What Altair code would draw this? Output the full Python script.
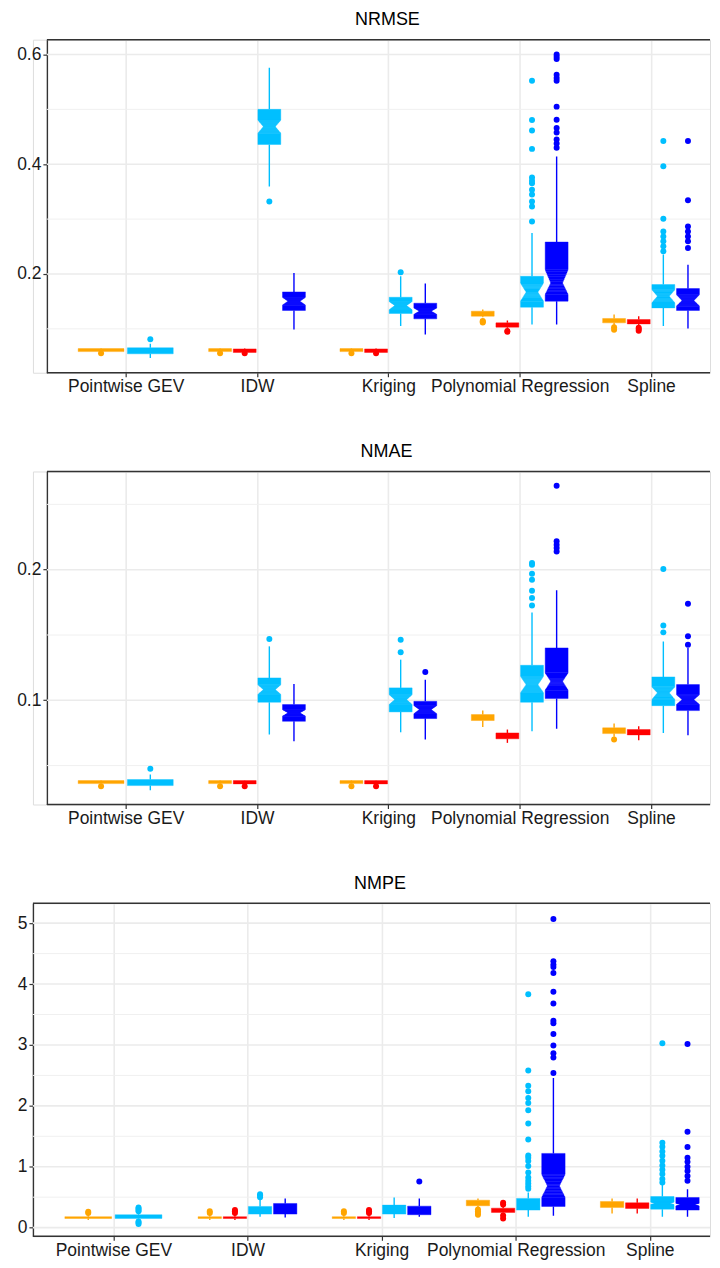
import altair as alt
import pandas as pd

CATEGORIES = ["Pointwise GEV", "IDW", "Kriging", "Polynomial Regression", "Spline"]
SERIES = ["S1", "S2", "S3", "S4"]
COLORS = ["#FFA500", "#FF0000", "#00BFFF", "#0000FF"]
PRESENT = {"Pointwise GEV": ["S1", "S3"]}

# (method, series, lower whisker, q1, median, q3, upper whisker, notch low, notch high)
NRMSE_STATS = [
    ("Pointwise GEV", "S1", 0.058, 0.0585, 0.061, 0.064, 0.065, None, None),
    ("Pointwise GEV", "S3", 0.047, 0.0545, 0.059, 0.0655, 0.073, None, None),
    ("IDW", "S1", 0.058, 0.0585, 0.061, 0.064, 0.065, None, None),
    ("IDW", "S2", 0.057, 0.057, 0.060, 0.0635, 0.064, None, None),
    ("IDW", "S3", 0.3595, 0.436, 0.4685, 0.500, 0.5758, 0.4564, 0.4807),
    ("IDW", "S4", 0.0989, 0.1335, 0.1504, 0.1673, 0.2018, 0.1431, 0.1576),
    ("Kriging", "S1", 0.058, 0.0585, 0.061, 0.064, 0.065, None, None),
    ("Kriging", "S2", 0.057, 0.057, 0.060, 0.0635, 0.064, None, None),
    ("Kriging", "S3", 0.105, 0.128, 0.1425, 0.1576, 0.1958, 0.1345, 0.150),
    ("Kriging", "S4", 0.0898, 0.1182, 0.1322, 0.1467, 0.1825, 0.1262, 0.1382),
    ("Polynomial Regression", "S1", 0.121, 0.1231, 0.128, 0.1322, 0.1353, None, None),
    ("Polynomial Regression", "S2", 0.101, 0.1031, 0.107, 0.1109, 0.1153, None, None),
    ("Polynomial Regression", "S3", 0.108, 0.1395, 0.1667, 0.1958, 0.2745, 0.1504, 0.1836),
    ("Polynomial Regression", "S4", 0.108, 0.1504, 0.1836, 0.2582, 0.414, 0.1625, 0.208),
    ("Spline", "S1", 0.107, 0.1109, 0.115, 0.1189, 0.126, None, None),
    ("Spline", "S2", 0.105, 0.109, 0.113, 0.117, 0.123, None, None),
    ("Spline", "S3", 0.105, 0.1382, 0.1595, 0.1807, 0.2353, 0.1473, 0.1716),
    ("Spline", "S4", 0.1007, 0.1335, 0.1516, 0.1734, 0.217, 0.1413, 0.1625),
]
NRMSE_OUTLIERS = [
    ("Pointwise GEV", "S1", [0.0555]),
    ("Pointwise GEV", "S3", [0.081]),
    ("IDW", "S1", [0.0555]),
    ("IDW", "S2", [0.0553]),
    ("IDW", "S3", [0.332]),
    ("Kriging", "S1", [0.0555]),
    ("Kriging", "S2", [0.0553]),
    ("Kriging", "S3", [0.203]),
    ("Polynomial Regression", "S1", [0.1145, 0.113, 0.1115]),
    ("Polynomial Regression", "S2", [0.096, 0.0945]),
    ("Polynomial Regression", "S3", [0.5522, 0.4807, 0.4613, 0.428, 0.3758, 0.370, 0.3655,
                                     0.3535, 0.345, 0.3322, 0.3231, 0.2958]),
    ("Polynomial Regression", "S4", [0.600, 0.596, 0.592, 0.563, 0.557, 0.552, 0.505, 0.481,
                                     0.466, 0.458, 0.445, 0.438, 0.430]),
    ("Spline", "S1", [0.103, 0.0985]),
    ("Spline", "S2", [0.102, 0.0995, 0.0965]),
    ("Spline", "S3", [0.4425, 0.3964, 0.3007, 0.2776, 0.2685, 0.2595, 0.2504, 0.2413]),
    ("Spline", "S4", [0.4425, 0.3345, 0.2867, 0.2776, 0.2685, 0.2595, 0.2473]),
]

NMAE_STATS = [
    ("Pointwise GEV", "S1", 0.0355, 0.0362, 0.0373, 0.0385, 0.039, None, None),
    ("Pointwise GEV", "S3", 0.0311, 0.0347, 0.037, 0.0393, 0.0431, None, None),
    ("IDW", "S1", 0.0355, 0.0362, 0.0373, 0.0385, 0.039, None, None),
    ("IDW", "S2", 0.0355, 0.036, 0.0372, 0.0385, 0.0388, None, None),
    ("IDW", "S3", 0.0738, 0.0985, 0.1082, 0.1171, 0.1413, 0.1044, 0.112),
    ("IDW", "S4", 0.0686, 0.0839, 0.0904, 0.0967, 0.1125, 0.0878, 0.0929),
    ("Kriging", "S1", 0.0355, 0.0362, 0.0373, 0.0385, 0.039, None, None),
    ("Kriging", "S2", 0.0355, 0.036, 0.0372, 0.0385, 0.0388, None, None),
    ("Kriging", "S3", 0.0755, 0.0911, 0.1005, 0.1095, 0.1311, 0.0967, 0.1044),
    ("Kriging", "S4", 0.070, 0.086, 0.0929, 0.0992, 0.1158, 0.0896, 0.096),
    ("Polynomial Regression", "S1", 0.0796, 0.0845, 0.087, 0.0891, 0.0921, None, None),
    ("Polynomial Regression", "S2", 0.0674, 0.0705, 0.0725, 0.075, 0.0776, None, None),
    ("Polynomial Regression", "S3", 0.0763, 0.0985, 0.112, 0.1268, 0.1673, 0.1057, 0.1184),
    ("Polynomial Regression", "S4", 0.0783, 0.1013, 0.1145, 0.1401, 0.1842, 0.1077, 0.121),
    ("Spline", "S1", 0.072, 0.0745, 0.077, 0.0789, 0.0822, None, None),
    ("Spline", "S2", 0.0694, 0.0735, 0.0755, 0.0776, 0.0801, None, None),
    ("Spline", "S3", 0.075, 0.0959, 0.1057, 0.1179, 0.1451, 0.1005, 0.1103),
    ("Spline", "S4", 0.0732, 0.0921, 0.1005, 0.112, 0.1401, 0.0967, 0.1044),
]
NMAE_OUTLIERS = [
    ("Pointwise GEV", "S1", [0.0342]),
    ("Pointwise GEV", "S3", [0.0475]),
    ("IDW", "S1", [0.0342]),
    ("IDW", "S2", [0.0342]),
    ("IDW", "S3", [0.147]),
    ("Kriging", "S1", [0.0342]),
    ("Kriging", "S2", [0.0342]),
    ("Kriging", "S3", [0.1464, 0.1367]),
    ("Kriging", "S4", [0.1217]),
    ("Polynomial Regression", "S3", [0.2051, 0.2038, 0.1969, 0.1923, 0.1839, 0.1783, 0.1725]),
    ("Polynomial Regression", "S4", [0.2643, 0.2217, 0.2191, 0.2166, 0.214]),
    ("Spline", "S1", [0.070]),
    ("Spline", "S3", [0.2005, 0.1572, 0.152]),
    ("Spline", "S4", [0.174, 0.149, 0.1426]),
]

NMPE_STATS = [
    ("Pointwise GEV", "S1", 0.125, 0.15, 0.165, 0.18, 0.21, None, None),
    ("Pointwise GEV", "S3", 0.12, 0.152, 0.18, 0.212, 0.25, None, None),
    ("IDW", "S1", 0.125, 0.15, 0.165, 0.18, 0.21, None, None),
    ("IDW", "S2", 0.125, 0.15, 0.165, 0.18, 0.21, None, None),
    ("IDW", "S3", 0.18, 0.222, 0.29, 0.348, 0.467, None, None),
    ("IDW", "S4", 0.168, 0.222, 0.31, 0.397, 0.479, None, None),
    ("Kriging", "S1", 0.125, 0.15, 0.165, 0.18, 0.21, None, None),
    ("Kriging", "S2", 0.125, 0.15, 0.165, 0.18, 0.21, None, None),
    ("Kriging", "S3", 0.157, 0.222, 0.29, 0.37, 0.495, None, None),
    ("Kriging", "S4", 0.18, 0.212, 0.28, 0.353, 0.479, None, None),
    ("Polynomial Regression", "S1", 0.33, 0.359, 0.41, 0.451, 0.479, None, None),
    ("Polynomial Regression", "S2", 0.23, 0.25, 0.285, 0.32, 0.34, None, None),
    ("Polynomial Regression", "S3", 0.18, 0.288, 0.38, 0.479, 0.577, None, None),
    ("Polynomial Regression", "S4", 0.196, 0.348, 0.686, 1.219, 2.456, 0.495, 0.876),
    ("Spline", "S1", 0.234, 0.332, 0.38, 0.43, 0.479, None, None),
    ("Spline", "S2", 0.234, 0.315, 0.36, 0.408, 0.479, None, None),
    ("Spline", "S3", 0.18, 0.304, 0.40, 0.511, 0.70, 0.38, 0.42),
    ("Spline", "S4", 0.18, 0.288, 0.376, 0.495, 0.63, 0.355, 0.40),
]
NMPE_OUTLIERS = [
    ("Pointwise GEV", "S1", [0.24, 0.26]),
    ("Pointwise GEV", "S3", [0.33, 0.31, 0.29, 0.27, 0.10, 0.08, 0.06]),
    ("IDW", "S1", [0.24, 0.27]),
    ("IDW", "S2", [0.24, 0.27, 0.29]),
    ("IDW", "S3", [0.50, 0.53, 0.55]),
    ("Kriging", "S1", [0.24, 0.27]),
    ("Kriging", "S2", [0.24, 0.27, 0.29]),
    ("Kriging", "S4", [0.757]),
    ("Polynomial Regression", "S1", [0.30, 0.27, 0.24, 0.21]),
    ("Polynomial Regression", "S2", [0.41, 0.38, 0.20, 0.15]),
    ("Polynomial Regression", "S3", [3.833, 2.582, 2.33, 2.239, 2.129, 2.047, 1.928, 1.709,
                                     1.448, 1.186, 1.149, 1.095, 1.013, 0.904, 0.822, 0.77,
                                     0.724, 0.68, 0.64]),
    ("Polynomial Regression", "S4", [5.07, 4.373, 4.319, 4.281, 4.183, 3.873, 3.681, 3.399,
                                     3.355, 3.18, 2.99, 2.864, 2.794, 2.538]),
    ("Spline", "S3", [3.028, 1.394, 1.33, 1.25, 1.18, 1.10, 1.02, 0.95, 0.88, 0.80, 0.74]),
    ("Spline", "S4", [3.016, 1.573, 1.323, 1.149, 1.08, 1.0, 0.93, 0.85, 0.77]),
]

FONT = "Liberation Sans"
GRID = "#EBEBEB"
FRAME = "#333333"
NOTCH_STEPS = 8
X_LEFT = 0.4          # ggplot's discrete expansion (0.6 units) on the left
X_RIGHT = 5.449       # right edge, cropped like the reference
PLOT_W = 679
PLOT_H = 334


def slot_geometry(method, series):
    present = PRESENT.get(method, SERIES)
    n = len(present)
    k = present.index(series)
    center = CATEGORIES.index(method) + 1
    slot = 0.75 / n
    xc = center - 0.375 + slot * (k + 0.5)
    half = slot * 0.93 / 2
    return xc, half


def build_frames(stats, outliers):
    rects, whisk, pts = [], [], []
    for (m, s, lw, q1, med, q3, uw, nlo, nhi) in stats:
        xc, half = slot_geometry(m, s)
        L, R = xc - half, xc + half
        if nlo is None:
            rects.append({"x": L, "x2": R, "y": q1, "y2": q3, "series": s})
        else:
            lo, hi = max(nlo, q1), min(nhi, q3)
            inset = 2 * half * 0.25
            rects.append({"x": L, "x2": R, "y": q1, "y2": lo, "series": s})
            rects.append({"x": L, "x2": R, "y": hi, "y2": q3, "series": s})
            for j in range(NOTCH_STEPS):
                f = (j + 0.5) / NOTCH_STEPS
                a = lo + (med - lo) * j / NOTCH_STEPS
                b = lo + (med - lo) * (j + 1) / NOTCH_STEPS
                rects.append({"x": L + inset * f, "x2": R - inset * f, "y": a, "y2": b,
                              "series": s})
                a = med + (hi - med) * j / NOTCH_STEPS
                b = med + (hi - med) * (j + 1) / NOTCH_STEPS
                rects.append({"x": L + inset * (1 - f), "x2": R - inset * (1 - f), "y": a,
                              "y2": b, "series": s})
        whisk.append({"x": xc, "y": lw, "y2": q1, "series": s})
        whisk.append({"x": xc, "y": q3, "y2": uw, "series": s})
    for (m, s, vals) in outliers:
        xc, _ = slot_geometry(m, s)
        for v in vals:
            pts.append({"x": xc, "y": v, "series": s})
    return pd.DataFrame(rects), pd.DataFrame(whisk), pd.DataFrame(pts)


LABEL_EXPR = "[" + ",".join("'" + c + "'" for c in CATEGORIES) + "][datum.value - 1]"


def panel(title, stats, outliers, ydomain, major, minor, fmt, frame_px, title_dx):
    rects, whisk, pts = build_frames(stats, outliers)
    spacing = (PLOT_W - frame_px) / (X_RIGHT - X_LEFT)
    xmin = X_LEFT - frame_px / spacing
    xscale = alt.Scale(domain=[xmin, X_RIGHT], nice=False, zero=False)
    yscale = alt.Scale(domain=ydomain, nice=False, zero=False)
    cscale = alt.Scale(domain=SERIES, range=COLORS)
    color = alt.Color("series:N", scale=cscale, legend=None)
    xaxis = alt.Axis(values=[1, 2, 3, 4, 5], labelExpr=LABEL_EXPR, title=None,
                     grid=True, gridColor=GRID, gridWidth=1.6, domain=False,
                     tickColor=FRAME, tickSize=4, tickWidth=1.2,
                     labelPadding=1, labelFont=FONT, labelFontSize=17.5, labelColor="#1A1A1A")
    yaxis = alt.Axis(values=major, format=fmt, title=None, grid=False, offset=-frame_px,
                     domainColor=FRAME, domainWidth=1.4, tickColor=FRAME, tickWidth=1.2,
                     tickSize=4, labelPadding=2, labelFont=FONT, labelFontSize=17.5,
                     labelColor="#1A1A1A", minExtent=24, maxExtent=24)

    major_df = pd.DataFrame({"v": major, "x0": X_LEFT, "x1": X_RIGHT})
    minor_df = pd.DataFrame({"v": minor, "x0": X_LEFT, "x1": X_RIGHT})
    frame_df = pd.DataFrame({"x0": [X_LEFT], "x1": [X_RIGHT]})

    minor_layer = alt.Chart(minor_df).mark_rule(color="#F0F0F0", strokeWidth=1).encode(
        y=alt.Y("v:Q", scale=yscale, axis=yaxis),
        x=alt.X("x0:Q", scale=xscale, axis=xaxis), x2="x1:Q",
    )
    major_layer = alt.Chart(major_df).mark_rule(color=GRID, strokeWidth=1.6).encode(
        y=alt.Y("v:Q", scale=yscale, axis=yaxis),
        x=alt.X("x0:Q", scale=xscale, axis=xaxis), x2="x1:Q",
    )
    boxes = alt.Chart(rects).mark_rect(clip=True, strokeWidth=0.4).encode(
        x=alt.X("x:Q", scale=xscale, axis=xaxis),
        x2="x2:Q",
        y=alt.Y("y:Q", scale=yscale, axis=yaxis),
        y2="y2:Q",
        color=color,
        stroke=alt.Stroke("series:N", scale=cscale, legend=None),
    )
    whiskers = alt.Chart(whisk).mark_rule(strokeWidth=1.4, clip=True).encode(
        x=alt.X("x:Q", scale=xscale, axis=xaxis),
        y=alt.Y("y:Q", scale=yscale, axis=yaxis),
        y2="y2:Q",
        color=color,
    )
    points = alt.Chart(pts).mark_circle(size=36, opacity=1, clip=True).encode(
        x=alt.X("x:Q", scale=xscale, axis=xaxis),
        y=alt.Y("y:Q", scale=yscale, axis=yaxis),
        color=color,
    )
    topline = alt.Chart(frame_df).mark_rule(color=FRAME, strokeWidth=1.4).encode(
        y=alt.value(0), x=alt.X("x0:Q", scale=xscale, axis=xaxis), x2="x1:Q"
    )
    bottomline = alt.Chart(frame_df).mark_rule(color=FRAME, strokeWidth=1.4).encode(
        y=alt.value(PLOT_H), x=alt.X("x0:Q", scale=xscale, axis=xaxis), x2="x1:Q"
    )
    return alt.layer(minor_layer, major_layer, whiskers, boxes, points, topline,
                     bottomline).properties(
        width=PLOT_W, height=PLOT_H,
        title=alt.TitleParams(title, font=FONT, fontSize=18, fontWeight="normal",
                              anchor="middle", offset=10, dx=title_dx, color="#000000"),
    )


p1 = panel("NRMSE", NRMSE_STATS, NRMSE_OUTLIERS, [0.02, 0.627], [0.2, 0.4, 0.6],
           [0.1, 0.3, 0.5], ".1f", 14, 16)
p2 = panel("NMAE", NMAE_STATS, NMAE_OUTLIERS, [0.0202, 0.2752], [0.1, 0.2],
           [0.05, 0.15, 0.25], ".1f", 14, 15)
p3 = panel("NMPE", NMPE_STATS, NMPE_OUTLIERS, [-0.142, 5.327], [0, 1, 2, 3, 4, 5],
           [0.5, 1.5, 2.5, 3.5, 4.5], "d", 0, 8.5)

chart = alt.vconcat(p1, p2, p3, spacing=46).properties(
    padding={"left": 0, "top": 0, "right": 0, "bottom": 0}
).configure_view(strokeWidth=0, strokeOpacity=0).configure(background="white")

chart.save("out.html", embed_options={"renderer": "svg", "actions": False})
